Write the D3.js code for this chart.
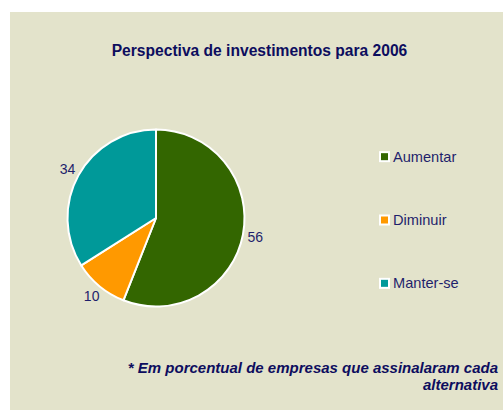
<!DOCTYPE html>
<html><head><meta charset="utf-8">
<script src="https://cdn.jsdelivr.net/npm/d3@7"></script>
<style>html,body{margin:0;padding:0;background:#fff;}svg{display:block;}</style>
</head><body>
<script>
const categories = ["Aumentar", "Diminuir", "Manter-se"];
const values = [56, 10, 34];
const colors = ["#336600", "#ff9900", "#009999"];
const title = "Perspectiva de investimentos para 2006";
const footnote = ["* Em porcentual de empresas que assinalaram cada", "alternativa"];

const W = 503, H = 411;
const svg = d3.select("body").append("svg").attr("width", W).attr("height", H);
svg.append("rect").attr("x", 10).attr("y", 12).attr("width", W - 10).attr("height", H - 13).attr("fill", "#e3e3cb");

svg.append("text").attr("x", 259.5).attr("y", 55.5).attr("text-anchor", "middle")
  .attr("font-family", "Liberation Sans, Arial, sans-serif").attr("font-weight", "bold")
  .attr("font-size", 15.6).attr("fill", "#0d0d5e").text(title);

const cx = 156, cy = 218, r = 88.5;
const pie = d3.pie().sort(null).value(d => d)(values);
const arc = d3.arc().innerRadius(0).outerRadius(r);
const g = svg.append("g").attr("transform", `translate(${cx},${cy})`);
g.selectAll("path").data(pie).join("path").attr("d", arc)
  .attr("fill", (d, i) => colors[i]).attr("stroke", "#fff").attr("stroke-width", 2).attr("stroke-linejoin", "round");

const labelArc = d3.arc().innerRadius(101).outerRadius(101);
g.selectAll("text").data(pie).join("text")
  .attr("x", d => labelArc.centroid(d)[0]).attr("y", d => labelArc.centroid(d)[1])
  .attr("text-anchor", "middle").attr("dy", "0.35em")
  .attr("font-family", "Liberation Sans, Arial, sans-serif").attr("font-size", 14)
  .attr("fill", "#1f1f6b").text(d => d.data);

const leg = d3.scaleBand().domain(categories).range([125, 315]);
const lg = svg.append("g");
categories.forEach((c, i) => {
  const y = leg(c) + leg.bandwidth() / 2;
  lg.append("rect").attr("x", 379).attr("y", y - 5.5).attr("width", 11).attr("height", 11).attr("fill", "#fff");
  lg.append("rect").attr("x", 381).attr("y", y - 3.5).attr("width", 7).attr("height", 7).attr("fill", colors[i]);
  lg.append("text").attr("x", 393).attr("y", y).attr("dy", "0.35em")
    .attr("font-family", "Liberation Sans, Arial, sans-serif").attr("font-size", 14.6)
    .attr("fill", "#1f1f6b").text(c);
});

svg.append("g").selectAll("text").data(footnote).join("text")
  .attr("x", 498).attr("y", (d, i) => 373 + i * 17).attr("text-anchor", "end")
  .attr("font-family", "Liberation Sans, Arial, sans-serif").attr("font-size", 15)
  .attr("font-weight", "bold").attr("font-style", "italic").attr("fill", "#0d0d5e").text(d => d);
</script>
</body></html>
